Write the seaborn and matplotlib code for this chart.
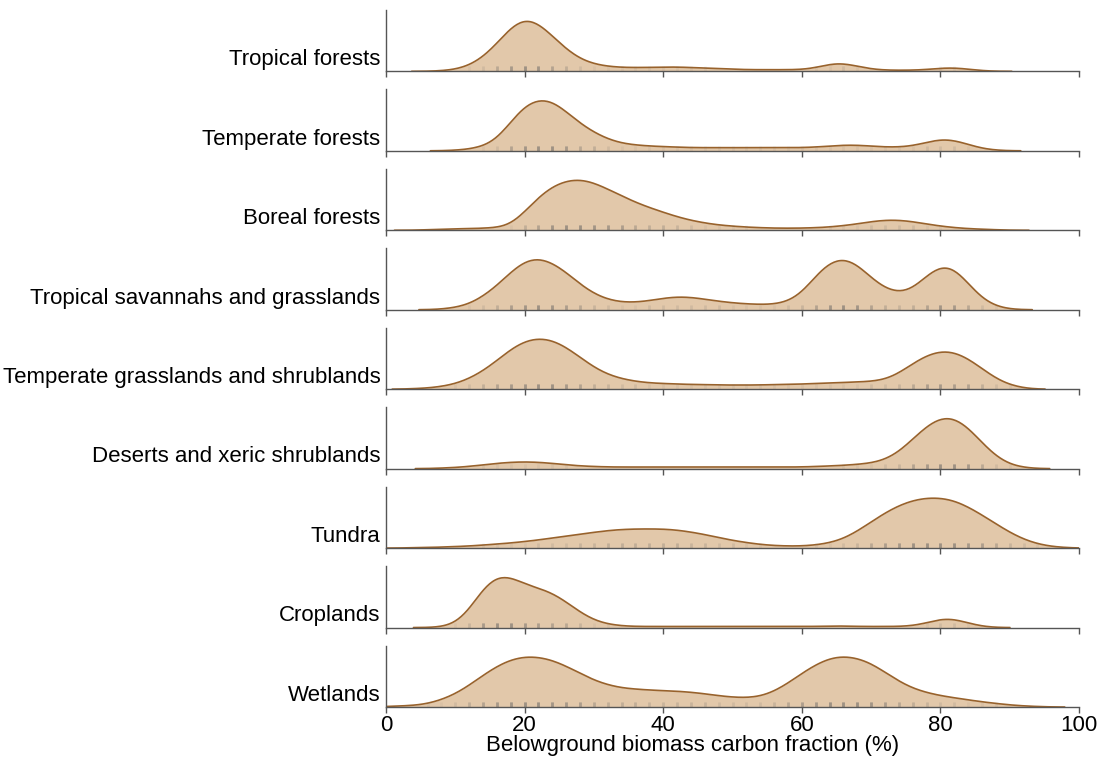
import numpy as np
import pandas as pd
import matplotlib
matplotlib.use("Agg")
import matplotlib.pyplot as plt
import seaborn as sns

biomes = [
    "Tropical forests",
    "Temperate forests",
    "Boreal forests",
    "Tropical savannahs and grasslands",
    "Temperate grasslands and shrublands",
    "Deserts and xeric shrublands",
    "Tundra",
    "Croplands",
    "Wetlands",
]

# Belowground carbon fraction (%) grid and relative frequency
grid = list(range(0, 101, 2))

tropical_forests = [0, 0, 0, 0, 1, 3, 10, 25, 50, 82, 100, 90, 65, 40, 22, 13, 9, 7, 7, 7,
                    8, 8, 7, 6, 5, 4, 3, 3, 3, 3, 3, 6, 14, 16, 9, 4, 2, 2, 2, 3,
                    6, 7, 4, 1, 0, 0, 0, 0, 0, 0, 0]
temperate_forests = [0, 0, 0, 0, 0, 1, 3, 8, 20, 55, 88, 100, 97, 75, 52, 35, 22, 14, 11, 9,
                     8, 7, 6, 6, 6, 6, 6, 6, 6, 6, 6, 7, 9, 11, 11, 9, 7, 7, 9, 16,
                     23, 21, 12, 4, 1, 0, 0, 0, 0, 0, 0]
boreal_forests = [0, 0, 0, 1, 2, 3, 3, 4, 5, 9, 35, 65, 86, 97, 100, 93, 80, 67, 54, 44,
                  35, 26, 19, 14, 10, 8, 6, 5, 4, 4, 4, 5, 6, 9, 12, 17, 20, 20, 17, 12,
                  8, 5, 3, 2, 1, 0, 0, 0, 0, 0, 0]
tropical_savannahs = [0, 0, 0, 0, 1, 4, 10, 25, 45, 72, 94, 100, 90, 72, 48, 30, 19, 14, 14, 17,
                      22, 25, 24, 20, 16, 13, 11, 10, 10, 15, 30, 65, 92, 100, 88, 60, 40, 31, 38, 65,
                      86, 82, 50, 20, 6, 1, 0, 0, 0, 0, 0]
temperate_grasslands = [0, 0, 1, 2, 5, 10, 20, 35, 55, 78, 94, 100, 96, 82, 62, 42, 28, 20, 15, 12,
                        11, 10, 9, 9, 8, 8, 8, 8, 9, 9, 10, 11, 12, 13, 14, 15, 18, 30, 50, 66,
                        75, 73, 60, 40, 20, 8, 2, 0, 0, 0, 0]
deserts = [0, 0, 0, 0, 1, 2, 4, 7, 10, 12, 13, 12, 10, 7, 5, 4, 3, 3, 3, 3,
           3, 3, 3, 3, 3, 3, 3, 3, 3, 3, 3, 4, 5, 6, 8, 10, 16, 30, 55, 80,
           97, 97, 78, 48, 22, 7, 2, 0, 0, 0, 0]
tundra = [0, 0, 1, 1, 2, 3, 4, 6, 8, 10, 13, 16, 20, 24, 28, 31, 35, 37, 38, 38,
          38, 36, 32, 27, 21, 15, 11, 7, 5, 4, 4, 6, 10, 18, 33, 52, 70, 85, 95, 100,
          100, 95, 82, 66, 48, 31, 17, 8, 3, 1, 0]
croplands = [0, 0, 0, 0, 1, 6, 30, 75, 98, 95, 80, 73, 65, 48, 28, 13, 6, 3, 2, 2,
             2, 2, 2, 2, 2, 2, 2, 2, 2, 2, 2, 2, 3, 3, 2, 2, 2, 2, 3, 8,
             17, 17, 8, 2, 0, 0, 0, 0, 0, 0, 0]
wetlands = [1, 2, 3, 6, 14, 25, 42, 62, 80, 93, 99, 98, 92, 80, 66, 52, 43, 37, 35, 33,
            32, 31, 29, 26, 22, 19, 18, 20, 30, 46, 66, 83, 96, 100, 96, 86, 68, 50, 36, 28,
            22, 18, 14, 10, 7, 4, 2, 1, 0, 0, 0]

series = [tropical_forests, temperate_forests, boreal_forests, tropical_savannahs,
          temperate_grasslands, deserts, tundra, croplands, wetlands]

xticks = [0, 20, 40, 60, 80, 100]
xlabel = "Belowground biomass carbon fraction (%)"

sns.set_theme(style="white")
plt.rcParams['font.family'] = ['Liberation Sans', 'DejaVu Sans']

FILL = "#e2c8aa"
LINE = "#98622c"
SPINE = "#555555"

fig, axes = plt.subplots(len(biomes), 1, figsize=(11.04, 7.67), dpi=100)
fig.subplots_adjust(left=0.3496, right=0.9774, top=0.987, bottom=0.0782, hspace=0.295)

bw = 1.6
for ax, name, w in zip(axes, biomes, series):
    x = np.array(grid, dtype=float)
    wt = np.array(w, dtype=float)
    keep = wt > 0
    x, wt = x[keep], wt[keep]
    mean = np.average(x, weights=wt)
    sd = np.sqrt(np.average((x - mean) ** 2, weights=wt))
    df = pd.DataFrame({"x": x, "w": wt})
    kw = dict(data=df, x="x", weights="w", bw_method=bw / sd, clip=(0, 100),
              cut=2, ax=ax, gridsize=400)
    sns.kdeplot(fill=True, color=FILL, alpha=1.0, linewidth=0, **kw)
    sns.kdeplot(fill=False, color=LINE, linewidth=1.2, **kw)
    rug = pd.DataFrame({"x": np.repeat(x, (wt / 10).round().astype(int))})
    sns.rugplot(data=rug, x="x", ax=ax, height=0.08, color="#666666",
                alpha=0.07, linewidth=2.0)
    ymax = max(l.get_ydata().max() for l in ax.lines if len(l.get_ydata()) > 10)
    ax.set_ylim(0, ymax * 1.23)
    ax.set_xlim(0, 100)
    ax.set_xticks(xticks)
    ax.set_yticks([])
    ax.set_ylabel("")
    ax.set_xlabel("")
    for s in ["top", "right"]:
        ax.spines[s].set_visible(False)
    for s in ["left", "bottom"]:
        ax.spines[s].set_color(SPINE)
        ax.spines[s].set_linewidth(1.0)
    ax.tick_params(axis="x", direction="out", length=4, width=1.0, color=SPINE,
                   bottom=True, labelsize=16, labelcolor="black", pad=2)
    if ax is not axes[-1]:
        ax.tick_params(axis="x", labelbottom=False)
    ax.text(-0.008, 0.19, name, transform=ax.transAxes, ha="right", va="center",
            fontsize=16, color="black")

fig.text(0.627, 0.028, xlabel, ha="center", va="center", fontsize=16, color="black")
fig.savefig("out.png", dpi=100)
